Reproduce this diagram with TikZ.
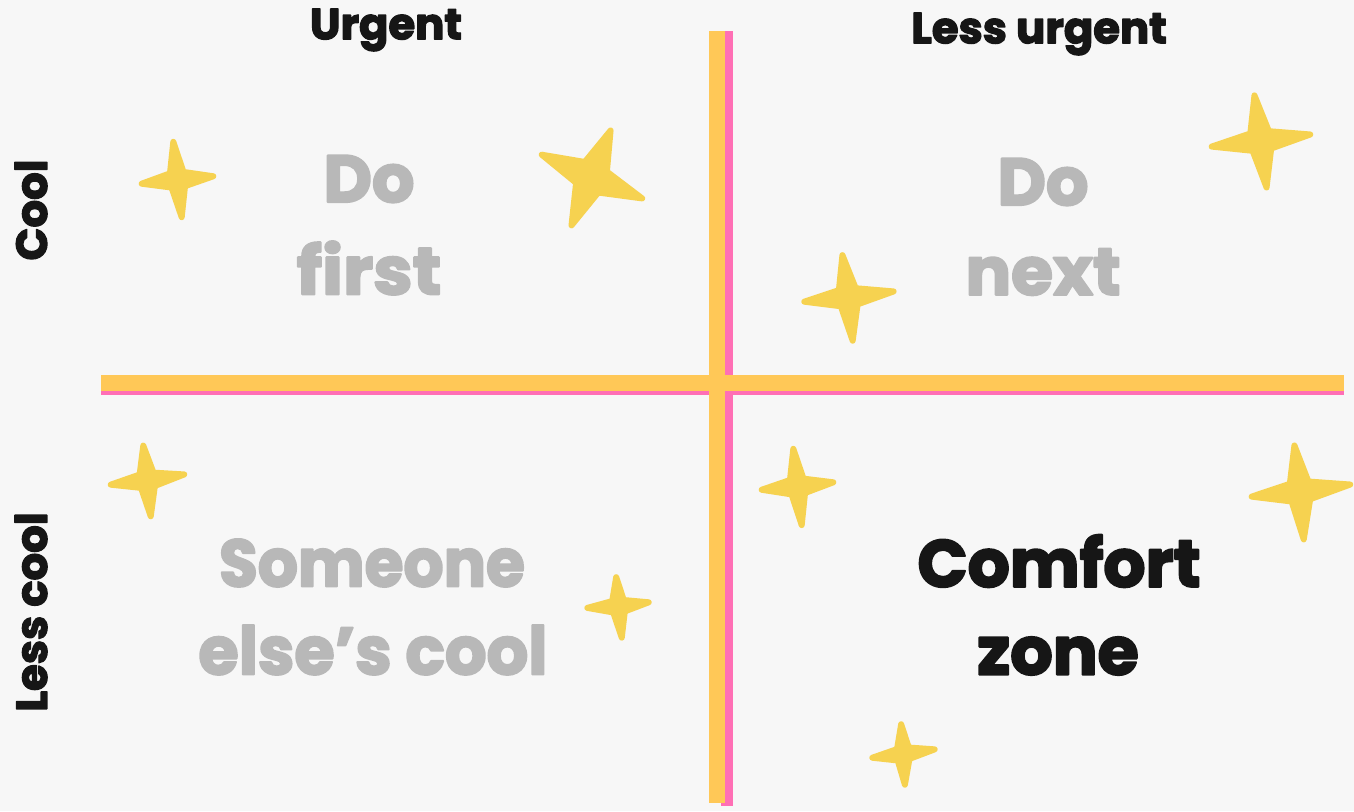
\documentclass[tikz,border=0pt]{standalone}
\usepackage{fontspec}
\usetikzlibrary{calc}
\setmainfont{Poppins}[UprightFont=* Bold,BoldFont=* Bold,FakeBold=3]
\definecolor{bgc}{HTML}{F7F7F7}
\definecolor{barorange}{HTML}{FFC857}
\definecolor{barpink}{HTML}{FF6FB5}
\definecolor{sparkc}{HTML}{F6D250}
\definecolor{faded}{HTML}{B8B8B8}
\definecolor{inkc}{HTML}{161616}
\tikzset{
  big/.style={font=\fontsize{50}{60}\selectfont,text=faded,inner sep=0pt,anchor=center,transform shape},
  bigdark/.style={big,text=inkc},
  axis/.style={font=\fontsize{32.5}{36}\selectfont,text=inkc,inner sep=0pt,anchor=center},
  spark/.style={fill=sparkc,draw=sparkc,line width=4.5pt,line join=round}
}
% sparkle from its top, right, bottom and left tips
\newcommand{\sparkle}[9][0.35]{%
  \coordinate (T) at (#2,#3);\coordinate (R) at (#4,#5);
  \coordinate (B) at (#6,#7);\coordinate (L) at (#8,#9);
  \coordinate (C) at ($(T)!0.5!(B)$);
  \coordinate (C) at ($(C)!0.5!($(L)!0.5!(R)$)$);
  \filldraw[spark] ($(C)!0.93!(T)$) -- ($(C)!#1!($(T)!0.5!(R)$)$) -- ($(C)!0.93!(R)$)
     -- ($(C)!#1!($(R)!0.5!(B)$)$) -- ($(C)!0.93!(B)$) -- ($(C)!#1!($(B)!0.5!(L)$)$)
     -- ($(C)!0.93!(L)$) -- ($(C)!#1!($(L)!0.5!(T)$)$) -- cycle;}
\begin{document}
\begin{tikzpicture}[x=0.75pt,y=-0.75pt,line join=round]
\useasboundingbox (0,0) rectangle (1354,811);
\fill[bgc] (0,0) rectangle (1354,811);
% bars
\fill[barpink] (721,31) rectangle (733,806);
\fill[barpink] (101,385) rectangle (1344,394.5);
\fill[barorange] (101,375) rectangle (1344,391);
\fill[barorange] (709,31) rectangle (725,802.5);
% sparkles
\sparkle{173}{139}{216}{176}{182}{220}{139}{184}
\sparkle[0.41]{612}{127}{646}{200}{570}{229}{538}{153}
\sparkle{1254}{92}{1314}{134}{1267}{191}{1208}{147}
\sparkle{842}{252}{897}{291}{853}{344}{801}{302}
\sparkle{143}{443}{187}{474}{151}{519}{108}{485}
\sparkle{616}{575}{651}{602}{622}{640}{585}{608}
\sparkle{793}{446}{836}{482}{802}{528}{759}{490}
\sparkle{1294}{442}{1354}{484}{1304}{543}{1248}{497}
\sparkle{901}{722}{937}{749}{905}{787}{870}{758}
% labels
\node[axis] (urgent) at (386,30) {Urgent};
\node[axis] (lessurgent) at (1039,34) {Less urgent};
\node[axis,rotate=90] (cool) at (31,210) {Cool};
\node[axis,rotate=90] (lesscool) at (31,612) {Less cool};
\node[big] (do1) at (369,179) {Do};
\node[big,xscale=1.06] (first) at (369,268) {first};
\node[big] (do2) at (1043,182) {Do};
\node[big,xscale=1.02] (next) at (1043,272) {next};
\node[big,xscale=.945] (someone) at (372,563) {Someone};
\node[big,xscale=.98] (elses) at (373,650) {else’s cool};
\node[bigdark,xscale=.99] (comfort) at (1059,561) {Comfort};
\node[bigdark] (zone) at (1058,656) {zone};
\end{tikzpicture}
\end{document}
